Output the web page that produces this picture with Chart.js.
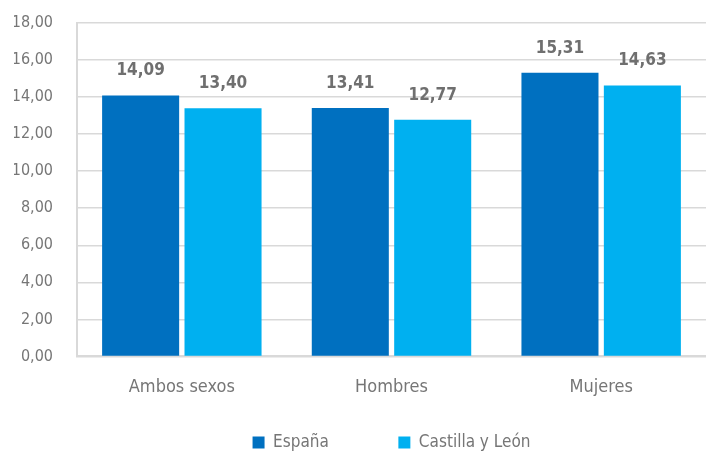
<!DOCTYPE html>
<html lang="es">
<head>
<meta charset="utf-8">
<script src="https://cdn.jsdelivr.net/npm/chart.js@4/dist/chart.umd.min.js"></script>
<style>
    html, body { margin: 0; padding: 0; background: #fff; }
    #wrap { width: 706px; height: 457px; }
</style>
</head>
<body>
<div id="wrap"><canvas id="chart"></canvas></div>
<script>
const categories = ["Ambos sexos", "Hombres", "Mujeres"];
const espana = [14.09, 13.41, 15.31];
const castillaLeon = [13.40, 12.77, 14.63];
const seriesNames = ["España", "Castilla y León"];

const FONT = "'Liberation Sans Narrow', 'DejaVu Sans Condensed', 'Roboto Condensed', sans-serif";

function fmt(v) { return v.toFixed(2).replace(".", ","); }

/* draws the value above every bar */
const valueLabels = {
    id: "valueLabels",
    afterDatasetsDraw(chart) {
        const ctx = chart.ctx;
        ctx.save();
        ctx.font = "bold 17px " + FONT;
        ctx.fillStyle = "#6f6f6f";
        ctx.textAlign = "center";
        ctx.textBaseline = "bottom";
        chart.data.datasets.forEach((ds, i) => {
            chart.getDatasetMeta(i).data.forEach((bar, j) => {
                ctx.fillText(fmt(ds.data[j]), bar.x, bar.y - 16);
            });
        });
        ctx.restore();
    }
};

new Chart(document.getElementById("chart"), {
    type: "bar",
    data: {
        labels: categories,
        datasets: [
            { label: seriesNames[0], data: espana, backgroundColor: "#0070C0" },
            { label: seriesNames[1], data: castillaLeon, backgroundColor: "#00B0F0" }
        ]
    },
    options: {
        responsive: true, maintainAspectRatio: false, animation: false,
        categoryPercentage: 0.786, barPercentage: 0.935,
        layout: { padding: { top: 23, right: -4, left: 14, bottom: -4 } },
        plugins: {
            tooltip: { enabled: false },
            legend: {
                position: "bottom", fullSize: false,
                labels: {
                    color: "#767676", boxWidth: 12, boxHeight: 12, padding: 16,
                    font: { family: FONT, size: 17 },
                    // wider gap between the two entries, as in the original
                    generateLabels(chart) {
                        const items = Chart.defaults.plugins.legend.labels.generateLabels(chart);
                        items.forEach((it, i) => {
                            if (i < items.length - 1) it.text += "\u2003\u2003\u2003\u2002";
                        });
                        return items;
                    }
                }
            }
        },
        scales: {
            y: {
                min: 0, max: 18,
                ticks: { stepSize: 2, color: "#767676", padding: 24, font: { family: FONT, size: 16 }, callback: v => fmt(v) },
                grid: { color: "#d9d9d9", lineWidth: 1.5, drawTicks: false },
                border: { color: "#d9d9d9", width: 2 },
                afterFit(scale) {
                    scale.width = 63;
                    scale.paddingTop = 9;
                    scale.paddingBottom = 9;
                }
            },
            x: {
                ticks: { color: "#767676", padding: 20, font: { family: FONT, size: 18 } },
                grid: { display: false, drawTicks: false },
                border: { color: "#d9d9d9", width: 2 }
            }
        }
    },
    plugins: [valueLabels]
});
</script>
</body>
</html>
